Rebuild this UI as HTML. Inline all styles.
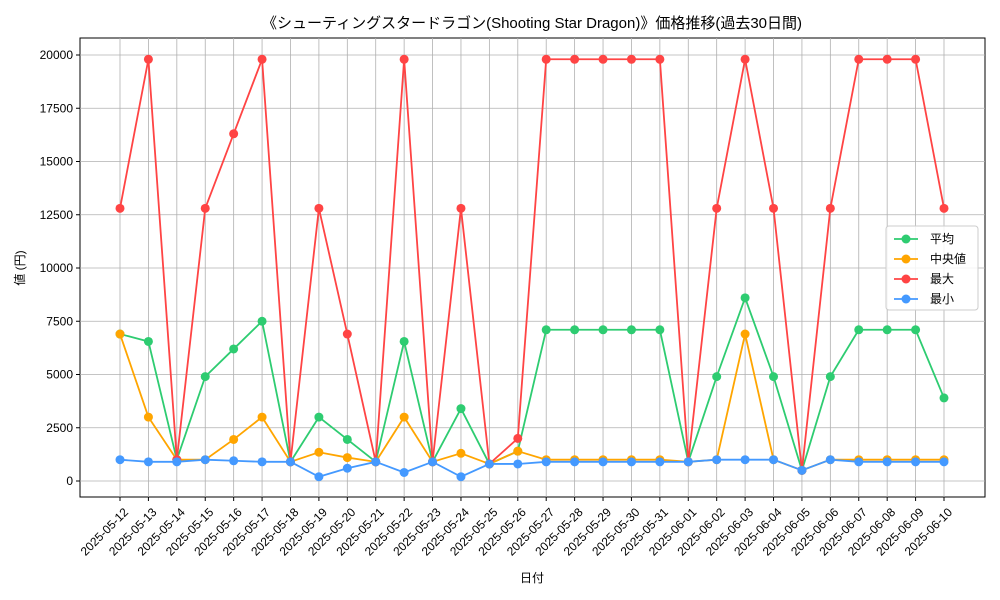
<!DOCTYPE html>
<html><head><meta charset="utf-8"><style>
body{margin:0;background:#fff}
svg{display:block;font-family:"Liberation Sans","Noto Sans CJK JP",sans-serif}
</style></head><body>
<svg id="chart" width="1000" height="600" viewBox="0 0 1000 600" xmlns="http://www.w3.org/2000/svg">
<text x="532" y="28" text-anchor="middle" font-size="15" fill="#000">《シューティングスタードラゴン(Shooting Star Dragon)》価格推移(過去30日間)</text>
<rect x="80" y="38" width="905" height="459" fill="none" stroke="#000" stroke-width="1"/>
<g id="grid"></g><g id="series"></g><g id="axes"></g>
<text x="532" y="582" text-anchor="middle" font-size="12">日付</text>
<text x="24" y="268" text-anchor="middle" font-size="12" transform="rotate(-90 24 268)">値 (円)</text>
<g id="legend">
<rect x="886" y="226" width="92" height="84" fill="#fff" fill-opacity="0.85" stroke="#ccc" rx="3"/>
</g>
</svg>
<script>
const dates=["2025-05-12","2025-05-13","2025-05-14","2025-05-15","2025-05-16","2025-05-17","2025-05-18","2025-05-19","2025-05-20","2025-05-21","2025-05-22","2025-05-23","2025-05-24","2025-05-25","2025-05-26","2025-05-27","2025-05-28","2025-05-29","2025-05-30","2025-05-31","2025-06-01","2025-06-02","2025-06-03","2025-06-04","2025-06-05","2025-06-06","2025-06-07","2025-06-08","2025-06-09","2025-06-10"];
const avgVals=[6900,6550,1000,4900,6200,7500,900,3000,1950,900,6550,900,3400,800,1400,7100,7100,7100,7100,7100,900,4900,8600,4900,500,4900,7100,7100,7100,3900];
const medVals=[6900,3000,1000,1000,1950,3000,900,1350,1100,900,3000,900,1300,800,1400,1000,1000,1000,1000,1000,900,1000,6900,1000,500,1000,1000,1000,1000,1000];
const maxVals=[12800,19800,1000,12800,16300,19800,900,12800,6900,900,19800,900,12800,800,2000,19800,19800,19800,19800,19800,900,12800,19800,12800,500,12800,19800,19800,19800,12800];
const minVals=[1000,900,900,1000,950,900,900,200,600,900,400,900,200,800,800,900,900,900,900,900,900,1000,1000,1000,500,1000,900,900,900,900];
const yTicks=[0,2500,5000,7500,10000,12500,15000,17500,20000];
const seriesNames=["平均","中央値","最大","最小"];
const NS="http://www.w3.org/2000/svg";
const X0=120,DX=(944-120)/29,Y0=481,YS=(481-55)/20000;
const xs=i=>X0+i*DX, ys=v=>Y0-v*YS;
function mk(tag,attrs,parent){const e=document.createElementNS(NS,tag);for(const k in attrs)e.setAttribute(k,attrs[k]);parent.appendChild(e);return e;}
const grid=document.getElementById('grid'),axes=document.getElementById('axes'),ser=document.getElementById('series'),leg=document.getElementById('legend');
dates.forEach((d,i)=>{
  const l=mk('line',{x1:xs(i),x2:xs(i),y1:38,y2:497,stroke:'#b0b0b0','stroke-width':0.8},grid);
  
  
  const t=mk('line',{x1:xs(i),x2:xs(i),y1:497,y2:501,stroke:'#000'},axes);
  
  
  const tx=mk('text',{x:xs(i)+3,y:507,'font-size':12,'text-anchor':'end',transform:`rotate(-45 ${xs(i)+3} 507)`,dy:'0.7em'},axes);
  tx.textContent=d;
  
  
});
yTicks.forEach(v=>{
  const l=mk('line',{x1:80,x2:985,y1:ys(v),y2:ys(v),stroke:'#b0b0b0','stroke-width':0.8},grid);
  
  
  const t=mk('line',{x1:76,x2:80,y1:ys(v),y2:ys(v),stroke:'#000'},axes);
  
  
  const tx=mk('text',{x:73,y:ys(v)+4,'font-size':12,'text-anchor':'end'},axes);
  tx.textContent=v;
  
  
});
const all=[avgVals,medVals,maxVals,minVals],cols=["#2ecc71","#ffa500","#ff4444","#4499ff"],keys=["avg","median","max","min"];
all.forEach((vals,s)=>{
  const g=mk('g',{},ser);
  
  
  const p=mk('polyline',{points:vals.map((v,i)=>xs(i)+','+ys(v)).join(' '),fill:'none',stroke:cols[s],'stroke-width':1.8},g);
  
  
  vals.forEach((v,i)=>{
    const c=mk('circle',{cx:xs(i),cy:ys(v),r:4.5,fill:cols[s]},g);
    
    
  });
  const ly=239+s*20;
  const e=mk('g',{},leg);
  
  
  mk('line',{x1:894,x2:918,y1:ly,y2:ly,stroke:cols[s],'stroke-width':1.8},e);
  mk('circle',{cx:906,cy:ly,r:4.5,fill:cols[s]},e);
  const t=mk('text',{x:930,y:ly+4,'font-size':12},e);
  t.textContent=seriesNames[s];
});
</script>
</body></html>
